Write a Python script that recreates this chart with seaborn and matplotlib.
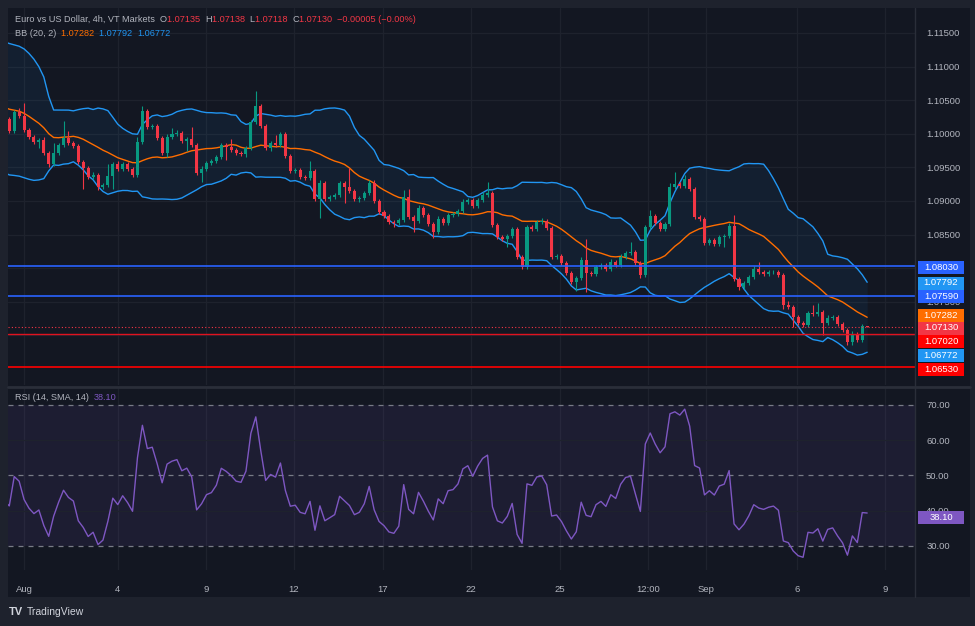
import numpy as np
import pandas as pd
import matplotlib
matplotlib.use('Agg')
import matplotlib.pyplot as plt
import seaborn as sns
from matplotlib.patches import Rectangle
from matplotlib.lines import Line2D

# ---- data (EURUSD 4h) ----
# closes before the first visible candle, only used to warm up BB / RSI
warmup_close = [1.1065, 1.1060, 1.1058, 1.1070, 1.1085, 1.1090,
                1.1095, 1.1105, 1.1130, 1.1085, 1.0990, 1.0975,
                1.0980, 1.0965, 1.0990, 1.1005, 1.1015, 1.1020,
                1.1000, 1.1010]
first_open = 1.1022
close = [1.1004, 1.1032, 1.1027, 1.1006, 1.0995, 1.0988, 1.0991, 1.0971, 1.0955, 1.0971,
         1.0983, 1.0994, 1.0986, 1.0982, 1.0958, 1.0949, 1.0936, 1.0939, 1.0921, 1.0924,
         1.0937, 1.0955, 1.0948, 1.0955, 1.0948, 1.0939, 1.0988, 1.1034, 1.1010, 1.1012,
         1.0994, 1.0971, 1.0995, 1.0999, 1.1001, 1.0989, 1.0992, 1.0983, 1.0942, 1.0948,
         1.0957, 1.0959, 1.0966, 1.0983, 1.0980, 1.0976, 1.0971, 1.0970, 1.0979, 1.1018,
         1.1041, 1.1012, 1.0979, 1.0986, 1.0983, 1.0999, 1.0967, 1.0945, 1.0946, 1.0936,
         1.0934, 1.0945, 1.0903, 1.0927, 1.0903, 1.0906, 1.0909, 1.0927, 1.0921, 1.0915,
         1.0903, 1.0905, 1.0912, 1.0927, 1.0900, 1.0884, 1.0878, 1.0869, 1.0867, 1.0872,
         1.0906, 1.0876, 1.0870, 1.0890, 1.0879, 1.0866, 1.0854, 1.0873, 1.0867, 1.0879,
         1.0880, 1.0885, 1.0899, 1.0902, 1.0893, 1.0902, 1.0909, 1.0912, 1.0864, 1.0846,
         1.0843, 1.0848, 1.0858, 1.0817, 1.0802, 1.0861, 1.0859, 1.0869, 1.0870, 1.0860,
         1.0817, 1.0818, 1.0808, 1.0793, 1.0779, 1.0785, 1.0812, 1.0793, 1.0791, 1.0802,
         1.0805, 1.0799, 1.0809, 1.0805, 1.0817, 1.0823, 1.0824, 1.0808, 1.0790, 1.0861,
         1.0878, 1.0867, 1.0858, 1.0866, 1.0921, 1.0925, 1.0922, 1.0933, 1.0918, 1.0876,
         1.0873, 1.0837, 1.0842, 1.0836, 1.0846, 1.0848, 1.0863, 1.0784, 1.0772, 1.0778,
         1.0787, 1.0799, 1.0794, 1.0792, 1.0794, 1.0795, 1.0790, 1.0745, 1.0742, 1.0727,
         1.0718, 1.0715, 1.0733, 1.0732, 1.0735, 1.0718, 1.0726, 1.0727, 1.0717, 1.0708,
         1.0690, 1.0702, 1.0693, 1.07135, 1.0713]
# wick length above / below the body, in pips
up_wick = [3, 4, 6, 19, 3, 3, 3, 4, 3, 15,
           4, 25, 10, 4, 3, 3, 3, 4, 3, 3,
           18, 3, 4, 3, 3, 3, 7, 7, 3, 3,
           3, 3, 4, 10, 4, 3, 3, 18, 3, 4,
           3, 4, 3, 4, 3, 13, 3, 3, 3, 3,
           22, 4, 3, 4, 12, 4, 3, 3, 3, 3,
           3, 15, 3, 4, 3, 3, 3, 3, 3, 28,
           3, 3, 3, 4, 4, 3, 3, 3, 3, 3,
           10, 12, 3, 4, 3, 3, 3, 4, 3, 3,
           3, 3, 4, 3, 3, 3, 4, 16, 3, 3,
           3, 3, 4, 3, 3, 4, 4, 3, 4, 3,
           3, 3, 3, 3, 3, 3, 4, 31, 3, 3,
           3, 3, 4, 3, 4, 3, 15, 3, 3, 4,
           8, 3, 3, 3, 6, 18, 4, 6, 3, 3,
           3, 3, 3, 3, 4, 3, 4, 16, 3, 3,
           3, 4, 10, 3, 3, 3, 3, 3, 6, 3,
           3, 3, 4, 12, 13, 3, 4, 3, 3, 3,
           3, 4, 3, 4, 0.3]
dn_wick = [3, 3, 3, 3, 3, 3, 9, 3, 4, 3,
           3, 3, 3, 3, 3, 31, 3, 3, 4, 3,
           3, 19, 3, 3, 3, 4, 3, 3, 3, 3,
           3, 3, 6, 3, 3, 3, 15, 3, 3, 13,
           3, 3, 3, 3, 19, 3, 3, 3, 4, 3,
           3, 3, 3, 4, 3, 3, 3, 3, 3, 3,
           3, 3, 3, 28, 3, 3, 3, 3, 24, 3,
           3, 4, 3, 3, 3, 3, 3, 3, 6, 3,
           3, 3, 16, 3, 3, 3, 9, 3, 3, 3,
           3, 3, 3, 3, 3, 3, 3, 3, 3, 3,
           3, 12, 3, 3, 3, 3, 3, 3, 3, 3,
           3, 3, 3, 3, 3, 13, 3, 28, 3, 3,
           3, 3, 3, 3, 3, 3, 3, 3, 4, 3,
           3, 3, 3, 3, 3, 3, 3, 3, 3, 3,
           3, 3, 3, 3, 3, 15, 3, 3, 4, 3,
           3, 3, 3, 3, 3, 3, 3, 6, 3, 15,
           3, 3, 3, 3, 3, 18, 3, 3, 3, 3,
           5, 4, 3, 3, 1.2]

date_ticks = [3, 22, 39.9, 57.7, 75.8, 93.6, 111.7, 129.5, 141.3, 159.8, 177.6]
date_labels = ['Aug', '4', '9', '12', '17', '22', '25', '12:00', 'Sep', '6', '9']
grid_prices = [1.070, 1.075, 1.080, 1.085, 1.090, 1.095, 1.100, 1.105, 1.110, 1.115]
# 1.080 / 1.070 labels sit fully under the price tags, so only these are labelled
price_ticks = [1.075, 1.085, 1.090, 1.095, 1.100, 1.105, 1.110, 1.115]
rsi_ticks = [30, 40, 50, 60, 70]

blue_levels = [1.0803, 1.0759]
red_levels = [1.0702, 1.0653]
last_ohlc = [1.07135, 1.07138, 1.07118, 1.07130]
last_change = -0.00005
bb_last = [1.07282, 1.07792, 1.06772]
rsi_last = 38.10

# ---- derived series ----
n = len(close)
x = np.arange(n)
opens = np.array([first_open] + close[:-1])
closes = np.array(close)
highs = np.maximum(opens, closes) + np.array(up_wick) * 1e-4
lows = np.minimum(opens, closes) - np.array(dn_wick) * 1e-4

allc = pd.Series(warmup_close + close)
mid = allc.rolling(20).mean()
sd = allc.rolling(20).std(ddof=0)
bb = pd.DataFrame({'x': np.arange(-len(warmup_close), n),
                   'mid': mid, 'up': mid + 2 * sd, 'lo': mid - 2 * sd}).dropna()

d = allc.diff().fillna(0)
g = d.clip(lower=0).ewm(alpha=1 / 14, adjust=False).mean()
l = (-d).clip(lower=0).ewm(alpha=1 / 14, adjust=False).mean()
rsi = pd.DataFrame({'x': np.arange(-len(warmup_close), n), 'rsi': 100 - 100 / (1 + g / l)})

# ---- style ----
BG = '#131722'
FRAME = '#1e222d'
GRID = '#1e222d'
TXT = '#b2b5be'
UP = '#089981'
DN = '#f23645'
sns.set_theme(style='dark', rc={'axes.facecolor': BG, 'figure.facecolor': FRAME})
plt.rcParams['font.family'] = ['Liberation Sans', 'DejaVu Sans']

W, H = 975, 626
fig = plt.figure(figsize=(W / 100, H / 100), dpi=100)


def rect(x0, y0, x1, y1):
    return [x0 / W, 1 - y1 / H, (x1 - x0) / W, (y1 - y0) / H]


fig.add_artist(Rectangle((8 / W, 1 - 597 / H), 962 / W, 589 / H,
                         transform=fig.transFigure, fc=BG, ec='none', zorder=0))

ax = fig.add_axes(rect(8, 8, 915, 385))
ax2 = fig.add_axes(rect(8, 388, 915, 570))
for a in (ax, ax2):
    a.set_facecolor(BG)
    for s in a.spines.values():
        s.set_visible(False)
    a.set_xlim(-0.26, 183.7)
    a.set_xticks(date_ticks)
    for t in date_ticks:
        a.axvline(t, color=GRID, lw=0.9, zorder=0)
    a.grid(False)

# price pane
ax.set_ylim(1.062619, 1.118720)
for p in grid_prices:
    ax.axhline(p, color=GRID, lw=0.9, zorder=0)
ax.yaxis.tick_right()
ax.set_yticks(price_ticks)
ax.set_yticklabels([f'{p:.5f}' for p in price_ticks])
ax.tick_params(axis='y', length=0, pad=8, labelsize=6.8, labelcolor=TXT)
ax.tick_params(axis='x', length=0, labelbottom=False)

ax.fill_between(bb['x'], bb['lo'], bb['up'], color='#2196f3', alpha=0.07, lw=0, zorder=1)
sns.lineplot(data=bb, x='x', y='up', ax=ax, color='#2196f3', lw=1, zorder=2)
sns.lineplot(data=bb, x='x', y='lo', ax=ax, color='#2196f3', lw=1, zorder=2)
sns.lineplot(data=bb, x='x', y='mid', ax=ax, color='#ff6d00', lw=1, zorder=2)

cols = np.where(closes >= opens, UP, DN)
ax.vlines(x, lows, highs, colors=cols, lw=0.8, zorder=3)
ax.bar(x, np.maximum(np.abs(closes - opens), 0.00008), bottom=np.minimum(opens, closes),
       width=0.62, color=cols, lw=0, zorder=4)

for p in blue_levels:
    ax.axhline(p, color='#2962ff', lw=1.2, zorder=5)
ax.axhline(red_levels[0], color='#e0121f', lw=1.0, zorder=5)
ax.axhline(red_levels[1], color='#ff0000', lw=1.2, zorder=5)
ax.axhline(last_ohlc[3], color=DN, lw=0.8, ls=(0, (1, 2)), zorder=5)
ax.set_xlabel('')
ax.set_ylabel('')

# rsi pane
ax2.set_ylim(23.19, 74.82)
ax2.axhspan(30, 70, color='#7e57c2', alpha=0.1, lw=0, zorder=0)
for v in (40, 60):
    ax2.axhline(v, color=GRID, lw=0.9, zorder=0)
for v in (30, 50, 70):
    ax2.axhline(v, color='#787b86', lw=0.9, ls=(0, (4, 4)), zorder=1)
sns.lineplot(data=rsi, x='x', y='rsi', ax=ax2, color='#7e57c2', lw=1, zorder=3)
ax2.yaxis.tick_right()
ax2.set_yticks(rsi_ticks)
ax2.set_yticklabels([f'{v:.2f}' for v in rsi_ticks])
ax2.tick_params(axis='y', length=0, pad=8, labelsize=6.8, labelcolor=TXT)
ax2.set_xticklabels(date_labels)
ax2.tick_params(axis='x', length=0, pad=11, labelsize=6.8, labelcolor=TXT)
ax2.set_xlabel('')
ax2.set_ylabel('')

# separators
fig.add_artist(Line2D([915 / W, 915 / W], [1 - 597 / H, 1 - 8 / H], color='#2a2e39', lw=1))
fig.add_artist(Line2D([8 / W, 970 / W], [1 - 386.5 / H, 1 - 386.5 / H], color='#2a2e39', lw=2))


# price tags on the right axis
def tag(yp, text, fc):
    fig.add_artist(Rectangle((918 / W, 1 - (yp + 6.5) / H), 46 / W, 13 / H,
                             transform=fig.transFigure, fc=fc, ec='none', zorder=10))
    fig.text(941 / W, 1 - yp / H, text, ha='center', va='center', color='white',
             fontsize=6.8, zorder=11)


tag(267.5, f'{blue_levels[0]:.5f}', '#2962ff')
tag(283, f'{bb_last[1]:.5f}', '#2196f3')
tag(296.5, f'{blue_levels[1]:.5f}', '#2962ff')
tag(315, f'{bb_last[0]:.5f}', '#ff6d00')
tag(328, f'{last_ohlc[3]:.5f}', DN)
tag(341.5, f'{red_levels[0]:.5f}', '#ff0000')
tag(355, f'{bb_last[2]:.5f}', '#2196f3')
tag(369, f'{red_levels[1]:.5f}', '#ff0000')
tag(517, f'{rsi_last:.2f}', '#7e57c2')

# legends / header
renderer = fig.canvas.get_renderer()


def chain(x0, yp, parts, size=6.6, gap=0):
    xx = x0
    for s, c in parts:
        t = fig.text(xx / W, 1 - yp / H, s, color=c, fontsize=size, va='center', ha='left')
        w = t.get_window_extent(renderer).width
        xx += w + gap


chain(15, 19, [('Euro vs US Dollar, 4h, VT Markets  ', TXT),
               ('O', TXT), (f'{last_ohlc[0]:.5f}  ', DN),
               ('H', TXT), (f'{last_ohlc[1]:.5f}  ', DN),
               ('L', TXT), (f'{last_ohlc[2]:.5f}  ', DN),
               ('C', TXT), (f'{last_ohlc[3]:.5f}  ', DN),
               (f'\u2212{abs(last_change):.5f} (\u22120.00%)', DN)])
chain(15, 33, [('BB (20, 2)  ', TXT), (f'{bb_last[0]:.5f}  ', '#ff6d00'),
               (f'{bb_last[1]:.5f}  ', '#2196f3'), (f'{bb_last[2]:.5f}', '#2196f3')])
chain(15, 398, [('RSI (14, SMA, 14)  ', TXT), (f'{rsi_last:.2f}', '#7e57c2')])

fig.text(9 / W, 1 - 612 / H, 'TV', color='#d1d4dc', fontsize=8, fontweight='bold', va='center')
fig.text(27 / W, 1 - 612 / H, 'TradingView', color='#d1d4dc', fontsize=7.5, va='center')

fig.savefig('out.png', dpi=100, facecolor=FRAME)
